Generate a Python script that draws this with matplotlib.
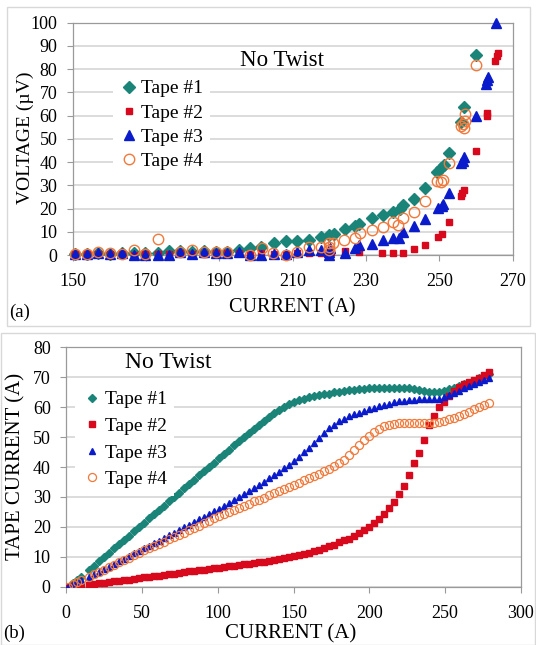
import matplotlib
matplotlib.use("Agg")
import matplotlib.pyplot as plt
from matplotlib.patches import Rectangle

plt.rcParams['font.family'] = ['Liberation Serif', 'DejaVu Serif']

W, H = 536, 645

# ---------------- Panel (a): voltage vs current ----------------
t1_I = [150.5, 153.8, 157.0, 160.2, 163.4, 166.6, 169.8, 173.2, 176.2, 179.4, 182.6, 185.8, 189.0, 192.2, 195.4, 198.4,
        201.4, 204.8, 208.2, 211.2, 214.4, 217.7, 220.0, 221.3, 224.2, 227.0, 228.2, 231.7, 234.5, 237.3, 239.2, 240.1,
        243.2, 246.2, 249.3, 250.4, 251.3, 252.7, 255.8, 256.7, 260.0]
t1_V = [0.5, 0.6, 1.0, 0.6, 1.0, 0.8, 0.9, 1.0, 1.9, 1.6, 1.2, 1.6, 1.4, 1.3, 2.3, 2.9,
        3.6, 5.0, 6.0, 6.2, 6.6, 7.6, 8.8, 8.9, 11.0, 12.4, 13.5, 16.0, 17.2, 18.4, 20.0, 21.5,
        24.3, 28.7, 35.6, 37.3, 38.8, 44.0, 57.4, 63.7, 85.9]

t2_I = [150.5, 153.8, 157.0, 160.2, 163.4, 166.6, 169.8, 173.2, 176.2, 179.4, 182.6, 185.8, 189.0, 192.2, 195.4, 198.4,
        201.4, 204.8, 208.2, 211.2, 214.4, 217.7, 220.5, 224.2, 228.2, 234.3, 237.3, 240.0, 243.2, 246.2,
        249.5, 250.7, 252.5, 255.8, 256.2, 256.7, 260.0, 263.0, 263.1, 265.3, 265.7, 266.0]
t2_V = [0.3, 0.3, 0.5, 0.3, 0.5, 0.2, 0.4, 0.3, 0.4, 0.7, 0.5, 0.6, 0.7, 1.0, 0.8, 0.6,
        0.7, 0.4, 0.5, 0.8, 1.0, 1.0, 1.5, 1.8, 1.3, 0.9, 0.9, 0.9, 2.6, 4.4,
        7.8, 9.2, 14.4, 25.2, 26.5, 28.0, 44.6, 59.7, 61.0, 83.5, 85.5, 87.0]

t3_I = [150.5, 153.8, 157.0, 160.2, 163.4, 166.6, 169.8, 173.2, 176.2, 179.4, 182.6, 185.8, 189.0, 192.2, 195.4, 198.4,
        201.4, 204.8, 208.2, 211.2, 214.4, 217.7, 219.8, 220.0, 220.3, 224.2, 227.0, 228.2, 231.7, 234.5,
        237.3, 239.0, 240.0, 243.2, 246.2, 249.5, 250.7, 251.0, 252.7, 255.8, 256.5, 256.8,
        260.0, 262.8, 263.0, 263.2, 265.5]
t3_V = [0.3, 0.4, 0.8, 0.3, 0.7, 0.1, 0.2, 0.2, 0.2, 1.1, 0.6, 1.2, 0.7, 1.0, 1.3, 0.0,
        0.0, 0.3, 0.3, 1.4, 2.2, 2.2, 0.0, 1.4, 2.9, 0.7, 2.9, 4.3, 4.6, 6.5,
        7.3, 7.5, 10.0, 12.6, 15.6, 20.3, 21.3, 22.0, 26.5, 39.4, 40.5, 42.0,
        60.0, 73.5, 75.5, 76.5, 100.0]

t4_I = [150.5, 153.8, 157.0, 160.2, 163.4, 166.6, 169.8, 173.2, 179.4, 182.6, 185.8, 189.0, 192.2,
        198.4, 201.5, 204.7, 208.1, 211.3, 214.5, 217.7, 220.0, 220.0, 220.0, 221.1, 224.1, 227.0, 228.3,
        231.5, 234.5, 237.3, 238.8, 240.0, 243.2, 246.2, 249.3, 250.5, 251.0, 252.7,
        255.8, 256.5, 256.8, 257.0, 257.0, 260.0]
t4_V = [0.5, 0.6, 1.2, 0.8, 0.6, 2.0, 0.5, 6.8, 1.5, 2.3, 1.3, 1.4, 1.2,
        0.0, 2.9, 0.8, 0.1, 1.4, 3.6, 3.3, 2.2, 3.6, 5.0, 5.0, 6.5, 7.2, 9.3,
        10.8, 12.0, 14.0, 13.0, 16.0, 18.4, 23.4, 31.8, 31.5, 32.5, 39.4,
        55.5, 56.5, 54.8, 57.5, 60.5, 82.0]

a_xticks = [150, 170, 190, 210, 230, 250, 270]
a_yticks = [0, 10, 20, 30, 40, 50, 60, 70, 80, 90, 100]

# ---------------- Panel (b): tape current vs total current ----------------
b_I = [1.0, 4.5, 7.5, 10.0,
       15.0, 18.3, 21.6, 24.9, 28.2, 31.5, 34.8, 38.1, 41.4, 44.7, 48.0, 51.3, 54.6, 57.9, 61.2, 64.5,
       67.8, 71.1, 74.4, 77.7, 81.0, 84.3, 87.6, 90.9, 94.2, 97.5, 100.8, 104.1, 107.4, 110.7, 114.0, 117.3,
       120.6, 123.9, 127.2, 130.5, 133.8, 137.1, 140.4, 143.7, 147.0, 150.3, 153.6, 156.9, 160.2, 163.5,
       166.8, 170.1, 173.4, 176.7, 180.0, 183.3, 186.6, 189.9, 193.2, 196.5, 199.8, 203.1, 206.4, 209.7,
       213.0, 216.3, 219.6, 222.9, 226.2, 229.5, 232.8, 236.1, 239.4, 242.7, 246.0, 249.3, 252.6, 255.9,
       259.2, 262.5, 265.8, 269.1, 272.4, 275.7, 279.0]

b_tape1 = [0.0, 1.2, 2.2, 3.1,
           5.6, 7.0, 8.5, 9.9, 11.3, 12.8, 14.2, 15.6, 17.1, 18.5, 19.9, 21.4, 22.8, 24.3, 25.7, 27.1,
           28.6, 30.0, 31.4, 32.9, 34.3, 35.7, 37.2, 38.6, 40.1, 41.5, 42.9, 44.4, 45.8, 47.2, 48.6, 50.0,
           51.3, 52.7, 54.0, 55.3, 56.6, 57.9, 59.1, 60.1, 61.0, 61.7, 62.3, 62.8, 63.3, 63.7,
           64.1, 64.3, 64.4, 64.9, 65.2, 65.4, 65.6, 65.8, 66.0, 66.2, 66.3, 66.4, 66.5, 66.5,
           66.5, 66.5, 66.5, 66.4, 66.3, 66.1, 65.8, 65.5, 65.1, 64.9, 65.0, 65.3, 65.9, 66.4,
           67.0, 67.6, 68.2, 68.9, 69.6, 70.3, 71.0]

b_tape2 = [0.0, 0.2, 0.5, 0.6,
           0.7, 0.9, 1.1, 1.3, 1.6, 1.8, 2.0, 2.2, 2.4, 2.6, 2.8, 3.1, 3.3, 3.5, 3.7, 4.0,
           4.2, 4.4, 4.6, 4.8, 5.1, 5.3, 5.5, 5.7, 5.9, 6.1, 6.4, 6.6, 6.8, 7.0, 7.3, 7.5,
           7.7, 7.9, 8.2, 8.4, 8.7, 9.0, 9.2, 9.5, 9.8, 10.2, 10.6, 11.0, 11.4, 11.8,
           12.3, 12.8, 13.5, 14.1, 14.8, 15.5, 16.1, 17.0, 18.0, 19.0, 20.1, 21.2, 22.6, 24.4,
           26.2, 28.3, 31.0, 33.8, 37.2, 41.5, 44.8, 49.0, 54.0, 57.0, 60.0, 61.6, 63.6, 65.4,
           66.6, 67.6, 68.4, 69.2, 69.9, 70.9, 71.9]

b_tape3 = [0.0, 0.9, 1.7, 2.3,
           3.3, 4.2, 5.0, 5.9, 6.7, 7.6, 8.5, 9.4, 10.2, 11.1, 12.0, 12.8, 13.7, 14.6, 15.4, 16.3,
           17.2, 18.1, 19.0, 19.9, 20.7, 21.6, 22.5, 23.4, 24.3, 25.2, 26.1, 27.1, 28.1, 29.0, 30.0, 31.0,
           32.0, 33.0, 34.0, 35.1, 36.2, 37.3, 38.4, 39.5, 40.6, 41.9, 43.3, 44.9, 46.5, 48.1,
           49.8, 51.5, 53.0, 54.2, 55.3, 56.2, 56.9, 57.6, 58.2, 58.8, 59.3, 59.8, 60.3, 60.8,
           61.2, 61.6, 61.9, 62.2, 62.4, 62.5, 62.6, 62.6, 62.6, 62.6, 62.8, 63.4, 64.2, 64.8,
           65.5, 66.3, 67.0, 67.8, 68.5, 69.2, 69.8]

b_tape4 = [0.0, 0.8, 1.5, 2.3,
           3.3, 4.1, 4.9, 5.7, 6.5, 7.3, 8.1, 8.9, 9.7, 10.5, 11.3, 12.1, 12.9, 13.6, 14.4, 15.1,
           15.8, 16.5, 17.3, 18.0, 18.8, 19.6, 20.4, 21.2, 22.0, 22.8, 23.6, 24.3, 25.0, 25.7, 26.4, 27.1,
           27.8, 28.5, 29.1, 29.8, 30.5, 31.2, 31.9, 32.5, 33.2, 34.0, 34.8, 35.6, 36.4, 37.1,
           37.8, 38.6, 39.4, 40.3, 41.3, 42.5, 44.0, 45.6, 47.3, 48.9, 50.4, 51.7, 52.8, 53.6,
           54.2, 54.5, 54.7, 54.8, 54.8, 54.7, 54.7, 54.7, 54.7, 54.8, 55.1, 55.5, 55.9, 56.4,
           57.0, 57.7, 58.5, 59.3, 60.1, 60.8, 61.4]

b_xticks = [0, 50, 100, 150, 200, 250, 300]
b_yticks = [0, 10, 20, 30, 40, 50, 60, 70, 80]

labels = ['Tape #1', 'Tape #2', 'Tape #3', 'Tape #4']
TEAL, RED, BLUE, ORANGE = '#1a8478', '#d8081d', '#0a1bcc', '#f2793a'

fig = plt.figure(figsize=(W / 100, H / 100), dpi=100)


def fx(x):
    return x / W


def fy(y):
    return 1 - y / H


def axes_px(l, t, r, b):
    return fig.add_axes([fx(l), fy(b), (r - l) / W, (b - t) / H])


def style(ax, xlim, ylim, xt, yt):
    ax.set_xlim(*xlim)
    ax.set_ylim(*ylim)
    ax.set_xticks(xt)
    ax.set_yticks(yt)
    ax.grid(axis='y', color='#d9d9d9', lw=1.3)
    ax.set_axisbelow(True)
    for s in ax.spines.values():
        s.set_color('#9a9a9a')
        s.set_linewidth(0.9)
    ax.tick_params(axis='both', direction='out', length=4, width=0.8, color='#9a9a9a', labelsize=13)
    ax.tick_params(axis='x', pad=9)
    ax.tick_params(axis='y', pad=7)


# panel frames
fig.patches.append(Rectangle((fx(6.5), fy(326)), (530 - 6.5) / W, (326 - 7.3) / H,
                             transform=fig.transFigure, fill=False, edgecolor='#d8d8d8', lw=1.0))
fig.patches.append(Rectangle((fx(0.5), fy(645)), (535 - 0.5) / W, (645 - 333) / H,
                             transform=fig.transFigure, fill=False, edgecolor='#d8d8d8', lw=1.0))

# ---- top axes
ax1 = axes_px(72.7, 22.7, 512.7, 255)
style(ax1, (150, 270), (0, 100), a_xticks, a_yticks)
ax1.plot(t1_I, t1_V, ls='none', marker='D', ms=6.2, color=TEAL, mec=TEAL, label=labels[0], clip_on=False, zorder=3)
ax1.plot(t2_I, t2_V, ls='none', marker='s', ms=3.8, color=RED, mec=RED, label=labels[1], clip_on=False, zorder=3)
ax1.plot(t3_I, t3_V, ls='none', marker='^', ms=7.0, color=BLUE, mec=BLUE, label=labels[2], clip_on=False, zorder=3)
ax1.plot(t4_I, t4_V, ls='none', marker='o', ms=7.5, mfc='none', mec=ORANGE, mew=1.0, label=labels[3],
         clip_on=False, zorder=3)
leg1 = ax1.legend(loc='upper left', bbox_to_anchor=((112.5 - 72.7) / 440, (255 - 73) / 232.3),
                  fontsize=14, frameon=True, facecolor='white', edgecolor='none', framealpha=1,
                  borderaxespad=0, borderpad=0.35, handlelength=1.0, handletextpad=0.12, labelspacing=0.34,
                  fancybox=False)
fig.text(fx(282), fy(60), 'No Twist', ha='center', va='center', fontsize=16.5)
fig.text(fx(292), fy(308), 'CURRENT (A)', ha='center', va='center', fontsize=14.5)
fig.text(fx(25.6), fy(138), 'VOLTAGE (\u00b5V)', ha='center', va='center', rotation=90, fontsize=14)
fig.text(fx(20), fy(312), '(a)', ha='center', va='center', fontsize=13.5)

# ---- bottom axes
ax2 = axes_px(66, 347.3, 521, 586.7)
style(ax2, (0, 300), (0, 80), b_xticks, b_yticks)
ax2.plot(b_I, b_tape1, ls='none', marker='D', ms=4.0, color=TEAL, mec=TEAL, label=labels[0], zorder=3)
ax2.plot(b_I, b_tape2, ls='none', marker='s', ms=4.3, color=RED, mec=RED, label=labels[1], zorder=3)
ax2.plot(b_I, b_tape3, ls='none', marker='^', ms=4.8, color=BLUE, mec=BLUE, label=labels[2], zorder=3)
ax2.plot(b_I, b_tape4, ls='none', marker='o', ms=5.8, mfc='none', mec=ORANGE, mew=0.9, label=labels[3], zorder=3)
leg2 = ax2.legend(loc='upper left', bbox_to_anchor=((74.5 - 66) / 455, (586.7 - 383) / 239.4),
                  fontsize=14, frameon=True, facecolor='white', edgecolor='none', framealpha=1,
                  borderaxespad=0, borderpad=0.4, handlelength=1.0, handletextpad=0.15, labelspacing=0.46,
                  fancybox=False)
fig.text(fx(168), fy(363), 'No Twist', ha='center', va='center', fontsize=17)
fig.text(fx(291), fy(634), 'CURRENT (A)', ha='center', va='center', fontsize=15)
fig.text(fx(15.4), fy(466.7), 'TAPE CURRENT (A)', ha='center', va='center', rotation=90, fontsize=15)
fig.text(fx(14), fy(633), '(b)', ha='center', va='center', fontsize=13.5)

fig.savefig('out.png', dpi=100)
